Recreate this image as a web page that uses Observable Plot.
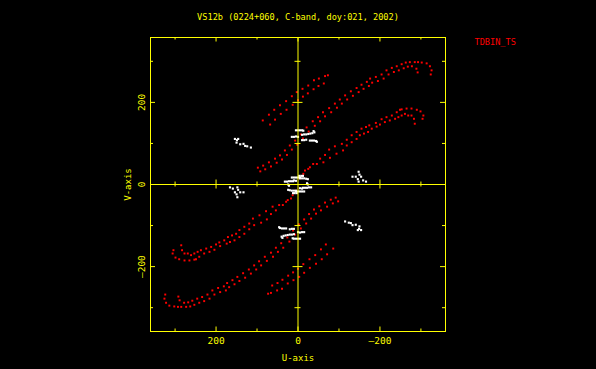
<!DOCTYPE html>
<html>
<head>
<meta charset="utf-8">
<script src="https://cdn.jsdelivr.net/npm/d3@7"></script>
<script src="https://cdn.jsdelivr.net/npm/@observablehq/plot@0.6"></script>
<style>
  html, body { margin: 0; padding: 0; background: #000; }
  #chart { width: 596px; height: 369px; }
</style>
</head>
<body>
<div id="chart"></div>
<script>
// ---- Data (u, v in kilo-lambda); each visibility
// is also plotted at its conjugate (-u, -v), as in any uv-coverage plot.
const title = "VS12b (0224+060, C-band, doy:021, 2002)";
const sourceLabel = "TDBIN_TS";
const xLabel = "U-axis";
const yLabel = "V-axis";

const uMajorTicks = [200, 0, -200];
const uMinorTicks = [300, 100, -100, -300];
const vMajorTicks = [200, 0, -200];
const vMinorTicks = [300, 100, -100, -300];

const trackA = [[98,41],[85,46],[71,54],[56,63],[44,71],[32,83],[20,95],[7,107],[-7,122],[-21,139],[-36,154],[-49,164],[-61,176],[-76,186],[-90,197],[-102,207],[-115,217],[-129,227],[-143,235],[-155,243],[-168,250],[-176,258],[-190,262],[-204,268],[-216,278],[-229,284],[-241,288],[-253,293],[-263,297],[-273,298],[-285,298],[-293,298],[-302,297],[-314,295],[-322,288],[-326,278],[-324,268]];
const trackA2 = [[92,32],[80,37],[66,44],[52,53],[39,61],[27,72],[15,85],[2,97],[-12,112],[-26,129],[-41,143],[-54,154],[-66,166],[-81,176],[-95,187],[-107,197],[-120,207],[-134,216],[-148,225],[-160,233],[-173,240],[-181,248],[-195,252],[-209,258],[-221,268],[-234,274],[-246,278],[-258,283],[-268,287],[-278,288],[-289,282],[-292,273]];
const trackB = [[-5,15],[-17,34],[-29,42],[-46,50],[-62,54],[-78,65],[-94,75],[-110,83],[-119,95],[-131,103],[-143,111],[-151,120],[-161,124],[-171,128],[-180,136],[-192,141],[-200,146],[-212,152],[-224,156],[-237,160],[-245,164],[-253,168],[-261,172],[-269,168],[-277,168],[-283,160],[-285,148]];
const trackB2 = [[-13,26],[-25,38],[-37,50],[-54,63],[-66,72],[-76,85],[-90,93],[-107,99],[-119,109],[-131,120],[-143,128],[-155,136],[-166,140],[-174,144],[-190,150],[-204,159],[-216,164],[-229,168],[-241,176],[-249,182],[-253,183],[-265,185],[-277,185],[-290,182],[-299,178],[-306,168],[-304,160]];
const trackL1 = [[86,156],[71,170],[58,182],[44,193],[29,203],[15,215],[3,225],[-11,233],[-25,241],[-39,254],[-51,258],[-66,264],[-73,266]];
const trackL1b = [[68,146],[56,158],[42,172],[28,182],[13,194],[0,205],[-12,214],[-24,222],[-38,232],[-50,240],[-63,246]];

const shortW0 = [[15,17],[10,17],[5,17],[0,17],[-5,17],[32,7],[27,7],[22,8],[17,8],[12,8],[-5,15],[-10,15],[-15,15],[-20,14],[-24,13],[-22,3],[-24,0],[-3,21],[-8,21],[-12,21],[10,10],[5,9]];
const shortW1 = [[5,132],[0,132],[-5,132],[-10,132],[-13,131],[15,116],[10,116],[5,117],[0,116],[-10,121],[-15,122],[-20,122],[-25,123],[-30,124],[-35,125],[-40,127],[-38,130],[-10,108],[-15,108],[-20,109],[-29,107],[-34,107],[-39,107],[-44,106],[-46,104]];
const shortW2 = [[154,111],[146,111],[149,108],[150,102],[141,98],[133,99],[129,94],[124,93],[115,90]];
const shortW3 = [[166,-7],[159,-10],[154,-19],[148,-7],[146,-13],[150,-24],[148,-31],[141,-19],[133,-19]];

// ---- Build tables (visibility + conjugate)
const withConj = (pts) => pts.flatMap(([u, v]) => [{u, v}, {u: -u, v: -v}]);
const redPts = withConj([...trackA, ...trackA2, ...trackB, ...trackB2, ...trackL1, ...trackL1b]);
const whitePts = withConj([...shortW0, ...shortW1, ...shortW2, ...shortW3]);

const YEL = "#ffff00", RED = "#ff0000", WHITE = "#ffffff";
const FW = 295, FH = 294;
const font = "DejaVu Sans Mono";

const chart = Plot.plot({
  width: 596,
  height: 369,
  marginLeft: 150,
  marginRight: 151,
  marginTop: 37,
  marginBottom: 38,
  style: {background: "#000", color: YEL, fontFamily: font, fontSize: "9px"},
  x: {domain: [360, -360], axis: null},
  y: {domain: [-358, 358], axis: null},
  marks: [
    // data
    Plot.dot(redPts, {x: "u", y: "v", symbol: "square", r: 1.1, fill: RED, stroke: null}),
    Plot.dot(whitePts, {x: "u", y: "v", symbol: "square", r: 1.2, fill: WHITE, stroke: null}),
    // frame and zero lines
    Plot.frame({stroke: YEL}),
    Plot.ruleX([0], {stroke: YEL}),
    Plot.ruleY([0], {stroke: YEL}),
    // inward ticks on frame
    Plot.ruleX(uMinorTicks, {stroke: YEL, insetBottom: FH - 2.5}),
    Plot.ruleX(uMajorTicks, {stroke: YEL, insetBottom: FH - 4.5}),
    Plot.ruleX(uMinorTicks, {stroke: YEL, insetTop: FH - 2.5}),
    Plot.ruleX(uMajorTicks, {stroke: YEL, insetTop: FH - 4.5}),
    Plot.ruleY(vMinorTicks, {stroke: YEL, insetRight: FW - 3}),
    Plot.ruleY(vMajorTicks, {stroke: YEL, insetRight: FW - 5}),
    Plot.ruleY(vMinorTicks, {stroke: YEL, insetLeft: FW - 3}),
    Plot.ruleY(vMajorTicks, {stroke: YEL, insetLeft: FW - 5}),
    // cross ticks on zero lines
    Plot.ruleX(uMinorTicks, {stroke: YEL, insetTop: FH / 2 - 2.5, insetBottom: FH / 2 - 2.5}),
    Plot.ruleX(uMajorTicks.filter(d => d !== 0), {stroke: YEL, insetTop: FH / 2 - 4.5, insetBottom: FH / 2 - 4.5}),
    Plot.ruleY(vMinorTicks, {stroke: YEL, insetLeft: FW / 2 - 3, insetRight: FW / 2 - 3}),
    Plot.ruleY(vMajorTicks.filter(d => d !== 0), {stroke: YEL, insetLeft: FW / 2 - 5, insetRight: FW / 2 - 5}),
    // tick labels
    Plot.text(uMajorTicks, {x: d => d, y: -358, dy: 9, text: d => String(d).replace("-", "\u2013"), fill: YEL, fontSize: 9.5, lineAnchor: "middle"}),
    Plot.text(vMajorTicks, {x: 360, y: d => d, dx: -9, rotate: -90, text: d => String(d).replace("-", "\u2013"), fill: YEL, fontSize: 9.5, lineAnchor: "middle"}),
    // axis titles
    Plot.text([xLabel], {frameAnchor: "bottom", dy: 27, text: d => d, fill: YEL, fontSize: 9, textAnchor: "middle", lineAnchor: "middle"}),
    Plot.text([yLabel], {frameAnchor: "left", dx: -22, rotate: -90, text: d => d, fill: YEL, fontSize: 9, textAnchor: "middle", lineAnchor: "middle"}),
    // title and source label
    Plot.text([title], {frameAnchor: "top", dy: -20.5, text: d => d, fill: YEL, fontSize: 8.6, textAnchor: "middle", lineAnchor: "middle"}),
    Plot.text([sourceLabel], {frameAnchor: "top-right", dx: 29, dy: 5, text: d => d, fill: RED, fontSize: 8.6, textAnchor: "start", lineAnchor: "middle"})
  ]
});
document.getElementById("chart").appendChild(chart);
</script>
</body>
</html>
